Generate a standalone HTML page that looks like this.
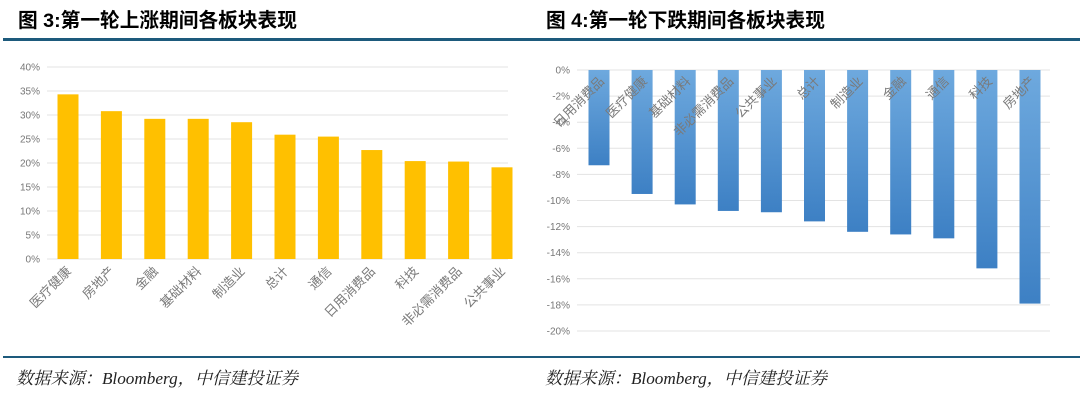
<!DOCTYPE html>
<html><head><meta charset="utf-8">
<style>
body{margin:0;background:#fff;width:1080px;height:400px;overflow:hidden}
svg{display:block}
.t{font-family:"Liberation Sans","Noto Sans CJK SC",sans-serif;font-weight:bold;font-size:19.7px;fill:#000}
.s{font-family:"Liberation Serif","Noto Serif CJK SC",serif;font-style:italic;font-size:17.2px;fill:#222}
.tk{font-family:"Liberation Sans",sans-serif;font-size:10px;fill:#777}
.cl{font-family:"Liberation Sans","Noto Sans CJK SC",sans-serif;font-size:13px;fill:#7a7a7a}
</style></head><body>
<svg id="svg" width="1080" height="400">
<defs><linearGradient id="bg" x1="0" y1="0" x2="0" y2="1"><stop offset="0" stop-color="#6ea9de"/><stop offset="1" stop-color="#3d80c4"/></linearGradient></defs>
<text class="t" x="18" y="27">图 3:第一轮上涨期间各板块表现</text>
<text class="t" x="546" y="27">图 4:第一轮下跌期间各板块表现</text>
<rect x="3" y="38" width="1077" height="3" fill="#1d5a7c"/>
<rect x="3" y="356" width="1077" height="2" fill="#1d5a7c"/>
<text class="s" x="16" y="384">数据来源：Bloomberg，中信建投证券</text>
<text class="s" x="545" y="384">数据来源：Bloomberg，中信建投证券</text>
<g id="left"></g>
<g id="right"></g>
</svg>
<script>
const upCats=["医疗健康","房地产","金融","基础材料","制造业","总计","通信","日用消费品","科技","非必需消费品","公共事业"];
const upVals=[34.3,30.8,29.2,29.2,28.5,25.9,25.5,22.7,20.4,20.3,19.1];
const upTicks=[0,5,10,15,20,25,30,35,40];
const downCats=["日用消费品","医疗健康","基础材料","非必需消费品","公共事业","总计","制造业","金融","通信","科技","房地产"];
const downVals=[-7.3,-9.5,-10.3,-10.8,-10.9,-11.6,-12.4,-12.6,-12.9,-15.2,-17.9];
const downTicks=[0,-2,-4,-6,-8,-10,-12,-14,-16,-18,-20];
const NS="http://www.w3.org/2000/svg";
function mk(p,t,a){const e=document.createElementNS(NS,t);for(const k in a)e.setAttribute(k,a[k]);p.appendChild(e);return e;}
// left
const L=document.getElementById('left');
const ly=v=>259-v*4.8, lx=i=>68+i*43.4;
upTicks.forEach(t=>{
 const g=mk(L,'line',{x1:47,x2:508,y1:ly(t),y2:ly(t),stroke:'#e3e3e3','stroke-width':1});
 
 
 const tx=mk(L,'text',{x:40,y:ly(t)+3.5,'text-anchor':'end',class:'tk'});tx.textContent=t+'%';
 
 
});
upVals.forEach((v,i)=>{
 const b=mk(L,'rect',{x:lx(i)-10.5,y:ly(v),width:21,height:ly(0)-ly(v),fill:'#ffc000'});
 
 
 const c=mk(L,'text',{x:lx(i)+4,y:272,'text-anchor':'end',class:'cl',transform:`rotate(-45 ${lx(i)+4} 272)`});c.textContent=upCats[i];
 
 
});
// right
const R=document.getElementById('right');
const ry=v=>70-v*13.05, rx=i=>599+i*43.1;
downTicks.forEach(t=>{
 const g=mk(R,'line',{x1:577,x2:1050,y1:ry(t),y2:ry(t),stroke:'#e3e3e3','stroke-width':1});
 
 
 const tx=mk(R,'text',{x:570,y:ry(t)+3.5,'text-anchor':'end',class:'tk'});tx.textContent=t+'%';
 
 
});
downVals.forEach((v,i)=>{
 const b=mk(R,'rect',{x:rx(i)-10.5,y:ry(0),width:21,height:ry(v)-ry(0),fill:'url(#bg)'});
 
 
});
downCats.forEach((c,i)=>{
 const x=rx(i)+6;
 const t=mk(R,'text',{x:x,y:82,'text-anchor':'end',class:'cl',transform:`rotate(-45 ${x} 82)`});t.textContent=c;
 
 
});
</script>
</body></html>
